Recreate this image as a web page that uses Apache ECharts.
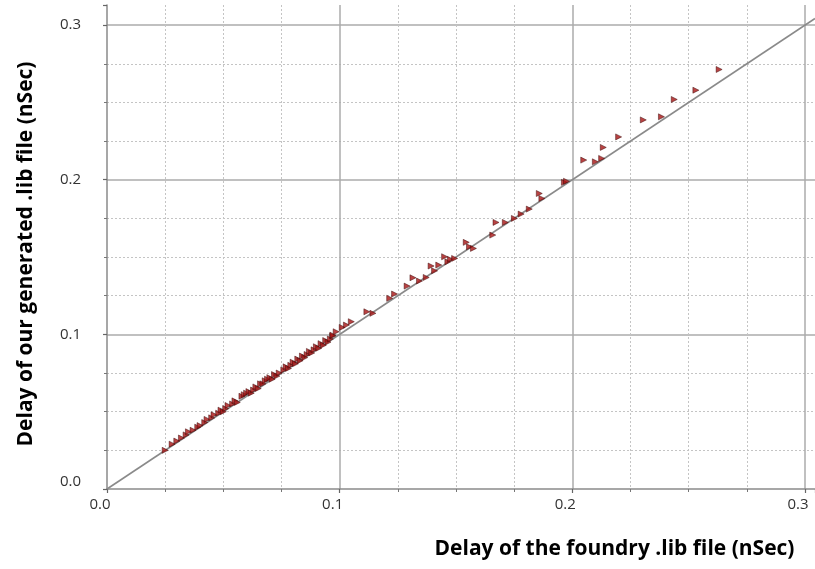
<!DOCTYPE html>
<html>
<head>
<meta charset="utf-8">
<script src="https://cdn.jsdelivr.net/npm/echarts@6/dist/echarts.min.js"></script>
<style>
html,body{margin:0;padding:0;background:#fff;}
#chart{width:815px;height:569px;}
</style>
</head>
<body>
<div id="chart"></div>
<script>
// Data (nSec)
var foundryDelay = [
  0.025,0.028,0.030,0.032,0.034,0.035,0.037,0.039,0.040,0.042,
  0.043,0.045,0.046,0.048,0.049,0.050,0.051,0.052,0.054,0.055,
  0.056,0.058,0.059,0.060,0.061,0.062,0.063,0.064,0.065,0.066,
  0.067,0.068,0.069,0.070,0.071,0.072,0.073,0.074,0.076,0.077,
  0.078,0.079,0.080,0.081,0.082,0.083,0.084,0.085,0.086,0.087,
  0.088,0.089,0.090,0.091,0.092,0.093,0.094,0.095,0.096,0.097,
  0.0971,0.0985,0.1011,0.1029,0.1050,0.1117,0.1143,0.1215,0.1236,0.1290,
  0.1315,0.1343,0.1372,0.1393,0.1408,0.1426,0.1451,0.1465,0.1476,0.1494,
  0.1544,0.1558,0.1575,0.1658,0.1672,0.1712,0.1751,0.1780,0.1815,0.1858,
  0.1869,0.1966,0.1975,0.2049,0.2099,0.2126,0.2133,0.2199,0.2305,0.2383,
  0.2438,0.2531,0.2631
];
var generatedDelay = [
  0.025,0.029,0.031,0.033,0.035,0.037,0.038,0.040,0.041,0.043,
  0.045,0.046,0.048,0.049,0.051,0.050,0.052,0.054,0.055,0.057,
  0.056,0.060,0.061,0.062,0.063,0.062,0.064,0.066,0.065,0.068,
  0.068,0.070,0.071,0.072,0.071,0.074,0.073,0.075,0.077,0.079,
  0.078,0.080,0.082,0.081,0.084,0.083,0.086,0.085,0.087,0.089,
  0.088,0.090,0.092,0.091,0.094,0.093,0.096,0.095,0.097,0.099,
  0.0995,0.1017,0.1045,0.1060,0.1082,0.1146,0.1136,0.1233,0.1261,0.1312,
  0.1366,0.1345,0.1368,0.1442,0.1411,0.1448,0.1502,0.1469,0.1485,0.1491,
  0.1595,0.1566,0.1556,0.1642,0.1724,0.1724,0.1750,0.1778,0.1810,0.1911,
  0.1879,0.1983,0.1990,0.2127,0.2116,0.2138,0.2209,0.2277,0.2387,0.2407,
  0.2519,0.2579,0.2713
];
var tickValues = [0.0, 0.1, 0.2, 0.3];
var xAxisTitle = 'Delay of the foundry .lib file (nSec)';
var yAxisTitle = 'Delay of our generated .lib file (nSec)';

var X_MAX = 0.3043, Y_MAX = 0.313;

var points = foundryDelay.map(function (x, i) { return [x, generatedDelay[i]]; });
var refLine = [[0, 0], [X_MAX, X_MAX]];

function fmt(v) {
  for (var i = 0; i < tickValues.length; i++) {
    if (Math.abs(v - tickValues[i]) < 1e-6) return tickValues[i].toFixed(1);
  }
  return '';
}

var axisCommon = {
  type: 'value',
  min: 0,
  interval: 0.1,
  axisLine: { show: true, lineStyle: { color: '#8a8a8a', width: 1.5 } },
  axisTick: { show: true, length: 4, lineStyle: { color: '#666', width: 1.2 } },
  minorTick: { show: true, splitNumber: 4, length: 3, lineStyle: { color: '#777', width: 1 } },
  splitLine: { show: true, showMaxLine: false, showMinLine: false, lineStyle: { color: '#ababab', width: 1.5 } },
  minorSplitLine: { show: true, lineStyle: { color: '#c4c4c4', width: 1, type: [2, 2] } },
  axisLabel: { formatter: fmt, color: '#333', fontFamily: 'Open Sans', fontSize: 15, showMaxLabel: false }
};

var titleStyle = { fontFamily: 'Open Sans', fontWeight: 'bold', fontSize: 21, color: '#000' };

var chart = echarts.init(document.getElementById('chart'));
chart.setOption({
  animation: false,
  backgroundColor: '#fff',
  grid: { left: 107, right: 0, top: 5, bottom: 80, containLabel: false },
  xAxis: echarts.util.merge({
    max: X_MAX,
    name: xAxisTitle,
    nameLocation: 'middle',
    nameGap: 50,
    nameTextStyle: echarts.util.merge({ padding: [0, 0, 0, 307] }, titleStyle),
    axisLabel: { margin: 8, padding: [0, 14, 0, 0] }
  }, axisCommon),
  yAxis: echarts.util.merge({
    max: Y_MAX,
    name: yAxisTitle,
    nameLocation: 'middle',
    nameGap: 70,
    nameTextStyle: echarts.util.merge({ padding: [0, 14, 0, 0] }, titleStyle),
    axisLabel: { margin: 26, verticalAlignMinLabel: 'bottom' }
  }, axisCommon),
  series: [
    {
      type: 'line',
      data: refLine,
      symbol: 'none',
      silent: true,
      z: 2,
      lineStyle: { color: '#8a8a8a', width: 1.6 }
    },
    {
      type: 'scatter',
      data: points,
      symbol: 'triangle',
      symbolRotate: -90,
      symbolSize: 6,
      z: 3,
      itemStyle: { color: '#a81414', borderColor: '#3a0808', borderWidth: 0.6 }
    }
  ]
});
</script>
</body>
</html>
